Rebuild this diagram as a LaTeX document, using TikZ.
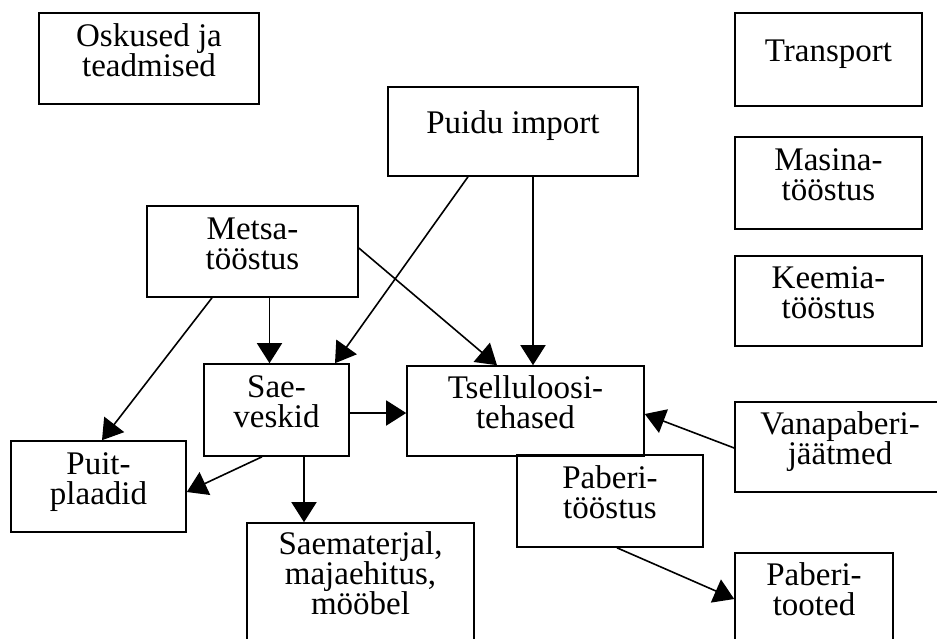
\documentclass[tikz,border=0pt]{standalone}
\usepackage{fontspec}
\setmainfont{Liberation Serif}
\usetikzlibrary{arrows.meta}
\newcommand\kastikiri{\fontsize{33pt}{30pt}\selectfont}
\tikzset{
  kast/.style={draw,line width=1.6pt,inner sep=0pt,align=center,font=\kastikiri,
    text height=52pt,text depth=17pt},
  kastyks/.style={kast,text height=22pt,text depth=18pt},
  nool/.style={line width=1.6pt,-{Triangle[length=20pt,width=25pt]}}
}
\begin{document}
\begin{tikzpicture}[x=1pt,y=-1pt]
\useasboundingbox (0,0) rectangle (937,638);
\clip (0,0) rectangle (937,638);
%
% kastid
\node[kast,minimum width=220pt,minimum height=91pt] (oskused) at (149,58.5) {Oskused ja\\teadmised};
\node[kastyks,minimum width=187pt,minimum height=93pt] (transport) at (828.5,59.5) {Transport};
\node[kastyks,minimum width=250pt,minimum height=89pt] (puidu) at (513,131.5) {Puidu import};
\node[kast,minimum width=187pt,minimum height=92pt] (masina) at (828.5,183) {Masina-\\tööstus};
\node[kast,minimum width=211pt,minimum height=91pt] (metsa) at (252.5,251.5) {Metsa-\\tööstus};
\node[kast,minimum width=187pt,minimum height=90pt] (keemia) at (828.5,301) {Keemia-\\tööstus};
\node[kast,minimum width=145pt,minimum height=92pt] (sae) at (276.5,410) {Sae-\\veskid};
\node[kast,minimum width=237pt,minimum height=90pt] (tsellul) at (525.5,411) {Tselluloosi-\\tehased};
\node[kast,minimum width=210pt,minimum height=90pt] (vanapab) at (840,447) {Vanapaberi-\\jäätmed};
\node[kast,minimum width=175pt,minimum height=91pt] (puit) at (98.5,486.5) {Puit-\\plaadid};
\node[kast,minimum width=186pt,minimum height=92pt] (paberit) at (610,501) {Paberi-\\tööstus};
\node[kast,minimum width=227pt,minimum height=130pt,text height=82pt,text depth=29pt]
  (saemat) at (360.5,588) {Saematerjal,\\majaehitus,\\mööbel};
\node[kast,minimum width=158pt,minimum height=90pt] (tooted) at (814,598) {Paberi-\\tooted};
%
% nooled
\draw[nool] ([xshift=17pt]metsa.south) -- ([xshift=-7pt]sae.north);
\draw[nool] ([xshift=-40.5pt]metsa.south) -- ([xshift=3.5pt]puit.north);
\draw[nool] ([yshift=3.5pt]metsa.east) -- ([xshift=-28.5pt]tsellul.north);
\draw[nool] ([xshift=-45pt]puidu.south) -- ([xshift=58.5pt]sae.north);
\draw[nool] ([xshift=20pt]puidu.south) -- ([xshift=7.5pt]tsellul.north);
\draw[nool] ([yshift=-3pt]sae.east) -- ([yshift=-2pt]tsellul.west);
\draw[nool] ([xshift=-14.5pt]sae.south) -- ([yshift=-5.5pt]puit.east);
\draw[nool] ([xshift=27.5pt]sae.south) -- ([xshift=-56.5pt]saemat.north);
\draw[nool] ([yshift=-1pt]vanapab.west) -- ([yshift=-3pt]tsellul.east);
\draw[nool] ([xshift=7pt]paberit.south) -- ([yshift=-1pt]tooted.west);
\end{tikzpicture}
\end{document}
